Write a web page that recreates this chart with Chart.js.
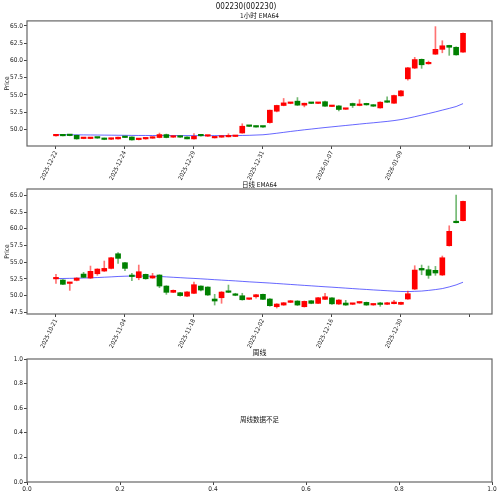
<!DOCTYPE html>
<html>
<head>
<meta charset="utf-8">
<script src="https://cdn.jsdelivr.net/npm/chart.js@4.4.0/dist/chart.umd.min.js"></script>
<style>
  html, body { margin: 0; padding: 0; background: #fff; }
  body { width: 500px; height: 496px; position: relative; overflow: hidden; }
  canvas { position: absolute; left: 0; }
</style>
</head>
<body>
<canvas id="hourChart" width="500" height="190" style="top:0px"></canvas>
<canvas id="dayChart" width="500" height="182" style="top:176px"></canvas>
<canvas id="weekChart" width="500" height="150" style="top:346px"></canvas>
<script>
// 1-hour candles (60 bars)
const hourTickIdx = [0, 10, 20, 30, 40, 50, 60];
const hourTickLabels = ['2025-12-22', '2025-12-24', '2025-12-29', '2025-12-31', '2026-01-07', '2026-01-09', ''];
const hourOpen = [49.05, 49.2, 49.12, 49.13, 48.65, 48.65, 48.78, 48.7, 48.55, 48.6,
    48.85, 48.88, 48.5, 48.6, 48.7, 48.8, 49.23, 48.85, 49.02, 48.88,
    48.6, 49.1, 49.0, 48.75, 48.85, 48.9, 48.95, 49.46, 50.45, 50.4,
    50.35, 50.97, 52.62, 53.45, 53.75, 54.08, 53.5, 53.82, 53.75, 54.0,
    53.3, 53.39, 52.9, 53.74, 53.45, 53.74, 53.54, 53.1, 53.96, 53.78,
    54.85, 57.32, 58.88, 60.15, 59.5, 60.9, 61.6, 62.17, 61.9, 61.2];
const hourHigh = [49.25, 49.22, 49.15, 49.15, 48.82, 48.82, 48.8, 48.72, 48.72, 48.88,
    48.88, 48.9, 48.6, 48.78, 48.92, 49.45, 49.3, 49.05, 49.05, 48.9,
    49.38, 49.12, 49.08, 48.95, 49.08, 49.35, 49.05, 50.8, 50.5, 50.45,
    50.4, 52.8, 53.5, 54.47, 53.9, 54.6, 53.8, 53.9, 53.88, 54.1,
    53.42, 53.42, 53.0, 53.8, 54.3, 53.78, 53.58, 54.0, 54.7, 54.95,
    55.65, 59.0, 60.44, 60.2, 59.9, 64.9, 62.85, 62.2, 61.95, 64.0];
const hourLow = [49.0, 49.02, 49.05, 48.55, 48.62, 48.62, 48.68, 48.48, 48.5, 48.56,
    48.78, 48.42, 48.45, 48.55, 48.68, 48.75, 48.75, 48.8, 48.82, 48.58,
    48.55, 49.0, 48.95, 48.72, 48.82, 48.88, 48.92, 49.42, 50.38, 50.3,
    50.28, 50.9, 52.52, 53.4, 53.7, 53.45, 53.25, 53.72, 53.72, 53.32,
    53.28, 52.67, 52.88, 53.16, 53.4, 53.5, 53.3, 53.05, 53.88, 53.75,
    54.8, 57.13, 58.8, 58.84, 59.45, 60.85, 61.1, 60.73, 60.75, 61.15];
const hourClose = [49.2, 49.05, 49.08, 48.6, 48.78, 48.78, 48.72, 48.52, 48.7, 48.85,
    48.8, 48.45, 48.55, 48.75, 48.9, 49.23, 48.8, 49.02, 48.85, 48.6,
    48.98, 49.05, 49.05, 48.9, 49.05, 49.05, 49.0, 50.44, 50.42, 50.32,
    50.32, 52.77, 53.46, 53.83, 53.82, 53.5, 53.78, 53.75, 53.82, 53.35,
    53.38, 52.87, 52.96, 53.45, 53.64, 53.54, 53.35, 53.93, 53.92, 54.9,
    55.57, 58.92, 60.12, 59.36, 59.6, 61.6, 62.12, 61.9, 60.8, 63.93];
const hourEma = [49.2, 49.2, 49.2, 49.19, 49.18, 49.17, 49.16, 49.15, 49.14, 49.13,
    49.12, 49.11, 49.1, 49.1, 49.09, 49.09, 49.09, 49.09, 49.08, 49.08,
    49.08, 49.08, 49.08, 49.08, 49.08, 49.08, 49.08, 49.1, 49.12, 49.16,
    49.2, 49.3, 49.42, 49.55, 49.68, 49.8, 49.92, 50.03, 50.14, 50.25,
    50.35, 50.45, 50.55, 50.65, 50.75, 50.85, 50.94, 51.04, 51.14, 51.26,
    51.41, 51.6, 51.82, 52.05, 52.28, 52.52, 52.78, 53.03, 53.3, 53.72];
const hourPriceTicks = [50.0, 52.5, 55.0, 57.5, 60.0, 62.5, 65.0];

// daily candles (60 bars)
const dayTickIdx = [0, 10, 20, 30, 40, 50, 60];
const dayTickLabels = ['2025-10-21', '2025-11-04', '2025-11-18', '2025-12-02', '2025-12-16', '2025-12-30', ''];
const dayOpen = [52.5, 52.33, 51.82, 52.28, 53.22, 52.63, 53.27, 53.67, 54.07, 56.26,
    54.92, 52.95, 52.67, 53.18, 52.63, 53.08, 51.43, 50.49, 50.43, 49.92,
    50.34, 51.43, 51.28, 49.49, 49.68, 50.64, 50.13, 49.98, 49.45, 49.83,
    50.19, 49.49, 48.34, 48.59, 48.99, 49.19, 48.34, 49.23, 48.84, 49.44,
    49.66, 48.74, 48.89, 48.7, 48.89, 48.99, 48.6, 48.74, 48.7, 48.79,
    48.7, 49.49, 50.98, 54.07, 53.87, 53.78, 53.08, 57.46, 61.05, 61.2];
const dayHigh = [53.18, 52.38, 52.0, 52.68, 53.48, 54.42, 54.02, 55.17, 55.72, 56.45,
    54.98, 53.33, 54.57, 53.22, 53.33, 53.12, 51.48, 50.85, 50.48, 50.6,
    52.03, 51.48, 51.32, 50.19, 50.6, 51.58, 50.35, 50.35, 49.58, 50.18,
    50.24, 49.55, 48.8, 48.98, 49.28, 49.24, 49.2, 49.28, 49.74, 50.34,
    49.72, 49.4, 49.29, 48.84, 49.1, 49.04, 48.76, 49.0, 48.98, 49.3,
    49.05, 50.68, 54.47, 54.57, 54.42, 54.37, 55.92, 60.44, 65.03, 64.15];
const dayLow = [51.83, 51.62, 50.78, 52.2, 52.68, 52.55, 53.03, 53.6, 54.0, 54.82,
    53.72, 52.22, 52.37, 52.45, 52.58, 51.18, 50.19, 50.44, 49.9, 49.85,
    50.28, 50.7, 50.02, 48.59, 48.85, 50.44, 49.98, 49.32, 49.4, 49.6,
    49.38, 48.42, 48.14, 48.54, 48.94, 48.52, 48.28, 48.78, 48.78, 49.38,
    48.7, 48.68, 48.54, 48.64, 48.84, 48.54, 48.55, 48.4, 48.65, 48.74,
    48.65, 49.42, 50.9, 53.12, 52.58, 53.03, 53.0, 57.4, 60.85, 61.15];
const dayClose = [52.62, 51.69, 51.92, 52.62, 52.73, 53.63, 53.97, 54.07, 55.66, 55.57,
    54.07, 52.85, 53.57, 52.52, 52.93, 51.43, 50.49, 50.79, 50.0, 50.55,
    51.63, 50.83, 50.09, 49.19, 50.53, 50.49, 50.04, 49.38, 49.52, 50.13,
    49.44, 48.49, 48.74, 48.93, 49.23, 48.59, 49.14, 48.84, 49.68, 49.83,
    48.77, 49.34, 48.59, 48.78, 49.04, 48.59, 48.7, 48.68, 48.93, 49.04,
    48.99, 50.28, 53.82, 53.82, 53.03, 53.38, 55.66, 59.61, 60.9, 64.09];
const dayEma = [52.55, 52.56, 52.58, 52.6, 52.63, 52.66, 52.7, 52.75, 52.8, 52.86,
    52.9, 52.93, 52.93, 52.92, 52.9, 52.86, 52.8, 52.74, 52.68, 52.62,
    52.57, 52.51, 52.45, 52.38, 52.32, 52.26, 52.2, 52.13, 52.06, 52.0,
    51.94, 51.88, 51.81, 51.74, 51.67, 51.6, 51.53, 51.46, 51.39, 51.32,
    51.26, 51.19, 51.12, 51.05, 50.98, 50.92, 50.85, 50.79, 50.73, 50.67,
    50.62, 50.6, 50.64, 50.68, 50.78, 50.9, 51.05, 51.3, 51.6, 52.0];
const dayPriceTicks = [47.5, 50.0, 52.5, 55.0, 57.5, 60.0, 62.5, 65.0];

// weekly panel has no data
const weekTicks = [0, 0.2, 0.4, 0.6, 0.8, 1.0];
const weekNote = '周线数据不足';

const FONT = '"DejaVu Sans Condensed", "DejaVu Sans", "Noto Sans CJK SC", sans-serif';
Chart.defaults.font.family = FONT;
Chart.defaults.font.size = 6.5;
Chart.defaults.color = '#222';

const RED = '#ff0000';
const GREEN = '#008000';

// box around the plot area, like matplotlib spines
const framePlugin = {
    id: 'frame',
    afterDraw(chart) {
        const { ctx, chartArea } = chart;
        ctx.save();
        ctx.strokeStyle = '#666';
        ctx.lineWidth = 1.2;
        ctx.strokeRect(chartArea.left, chartArea.top, chartArea.right - chartArea.left, chartArea.bottom - chartArea.top);
        ctx.restore();
    }
};

function tickGrid() {
    return { display: true, drawOnChartArea: false, drawTicks: true, tickLength: 3, color: '#444', offset: false };
}

function candleChart(canvasId, open, high, low, close, ema, tickIdx, tickLabels, priceTicks, yMin, yMax, xMax, titleOpts, subtitleOpts) {
    const idx = open.map((_, i) => i);
    const up = idx.map(i => close[i] >= open[i]);

    new Chart(document.getElementById(canvasId), {
        type: 'bar',
        data: {
            datasets: [
                {
                    label: 'body',
                    data: idx.map(i => ({ x: i, y: [Math.min(open[i], close[i]), Math.max(open[i], close[i])] })),
                    backgroundColor: up.map(u => u ? RED : GREEN),
                    borderWidth: 0,
                    barThickness: 5,
                    minBarLength: 1.5,
                    grouped: false,
                    order: 1
                },
                {
                    label: 'wick',
                    data: idx.map(i => ({ x: i, y: [low[i], high[i]] })),
                    backgroundColor: up.map(u => u ? 'rgba(255,0,0,0.55)' : 'rgba(0,128,0,0.55)'),
                    borderWidth: 0,
                    barThickness: 1,
                    grouped: false,
                    order: 2
                },
                {
                    type: 'line',
                    label: 'EMA64',
                    data: idx.map(i => ({ x: i, y: ema[i] })),
                    borderColor: 'rgba(0,0,255,0.6)',
                    borderWidth: 1,
                    pointRadius: 0,
                    order: 3
                }
            ]
        },
        options: {
            responsive: false,
            animation: false,
            events: [],
            layout: { padding: { left: 0, right: 8, top: 0, bottom: 0 } },
            scales: {
                x: {
                    type: 'linear',
                    min: -4.2,
                    max: xMax,
                    offset: false,
                    grid: tickGrid(),
                    border: { display: false },
                    afterBuildTicks: axis => { axis.ticks = tickIdx.map(v => ({ value: v })); },
                    afterFit: axis => { axis.height = 44; },
                    ticks: {
                        autoSkip: false,
                        minRotation: 64,
                        maxRotation: 64,
                        padding: 1,
                        font: { size: 6 },
                        callback: (value, index) => tickLabels[index]
                    }
                },
                y: {
                    type: 'linear',
                    min: yMin,
                    max: yMax,
                    grid: tickGrid(),
                    border: { display: false },
                    afterBuildTicks: axis => { axis.ticks = priceTicks.map(v => ({ value: v })); },
                    afterFit: axis => { axis.width = 27; },
                    title: { display: true, text: 'Price', font: { size: 6.5 }, padding: { top: 3, bottom: 0 } },
                    ticks: { padding: 1, callback: value => value.toFixed(1) }
                }
            },
            plugins: {
                legend: { display: false },
                tooltip: { enabled: false },
                title: titleOpts,
                subtitle: subtitleOpts
            }
        },
        plugins: [framePlugin]
    });
}

candleChart('hourChart', hourOpen, hourHigh, hourLow, hourClose, hourEma,
    hourTickIdx, hourTickLabels, hourPriceTicks, 47.57, 65.73, 63.2,
    { display: true, text: '002230(002230)', font: { size: 8, weight: 'normal' }, color: '#111', padding: { top: 2, bottom: 0 } },
    { display: true, text: '1小时 EMA64', fullSize: false, font: { size: 6.5 }, color: '#111', padding: { top: 0.5, bottom: 1 } });

candleChart('dayChart', dayOpen, dayHigh, dayLow, dayClose, dayEma,
    dayTickIdx, dayTickLabels, dayPriceTicks, 47.25, 65.94, 63.2,
    { display: true, text: '日线 EMA64', fullSize: false, font: { size: 6.5, weight: 'normal' }, color: '#111', padding: { top: 5.1, bottom: 0.1 } },
    { display: false });

// weekly: empty axes with a note in the middle
const notePlugin = {
    id: 'note',
    afterDraw(chart) {
        const { ctx, scales } = chart;
        ctx.save();
        ctx.font = '6.5px ' + FONT;
        ctx.fillStyle = '#111';
        ctx.textAlign = 'center';
        ctx.textBaseline = 'middle';
        ctx.fillText(weekNote, scales.x.getPixelForValue(0.5), scales.y.getPixelForValue(0.5));
        ctx.restore();
    }
};

new Chart(document.getElementById('weekChart'), {
    type: 'scatter',
    data: { datasets: [] },
    options: {
        responsive: false,
        animation: false,
        events: [],
        layout: { padding: { left: 0, right: 8, top: 0, bottom: 0 } },
        scales: {
            x: {
                type: 'linear', min: 0, max: 1,
                grid: tickGrid(),
                border: { display: false },
                afterBuildTicks: axis => { axis.ticks = weekTicks.map(v => ({ value: v })); },
                afterFit: axis => { axis.height = 14; },
                ticks: { maxRotation: 0, padding: 0, callback: value => value.toFixed(1) }
            },
            y: {
                type: 'linear', min: 0, max: 1,
                grid: tickGrid(),
                border: { display: false },
                afterBuildTicks: axis => { axis.ticks = weekTicks.map(v => ({ value: v })); },
                afterFit: axis => { axis.width = 27; },
                ticks: { padding: 1, callback: value => value.toFixed(1) }
            }
        },
        plugins: {
            legend: { display: false },
            tooltip: { enabled: false },
            title: { display: true, text: '周线', fullSize: false, font: { size: 7, weight: 'normal' }, color: '#111', padding: { top: 2.8, bottom: 1.8 } }
        }
    },
    plugins: [framePlugin, notePlugin]
});
</script>
</body>
</html>
